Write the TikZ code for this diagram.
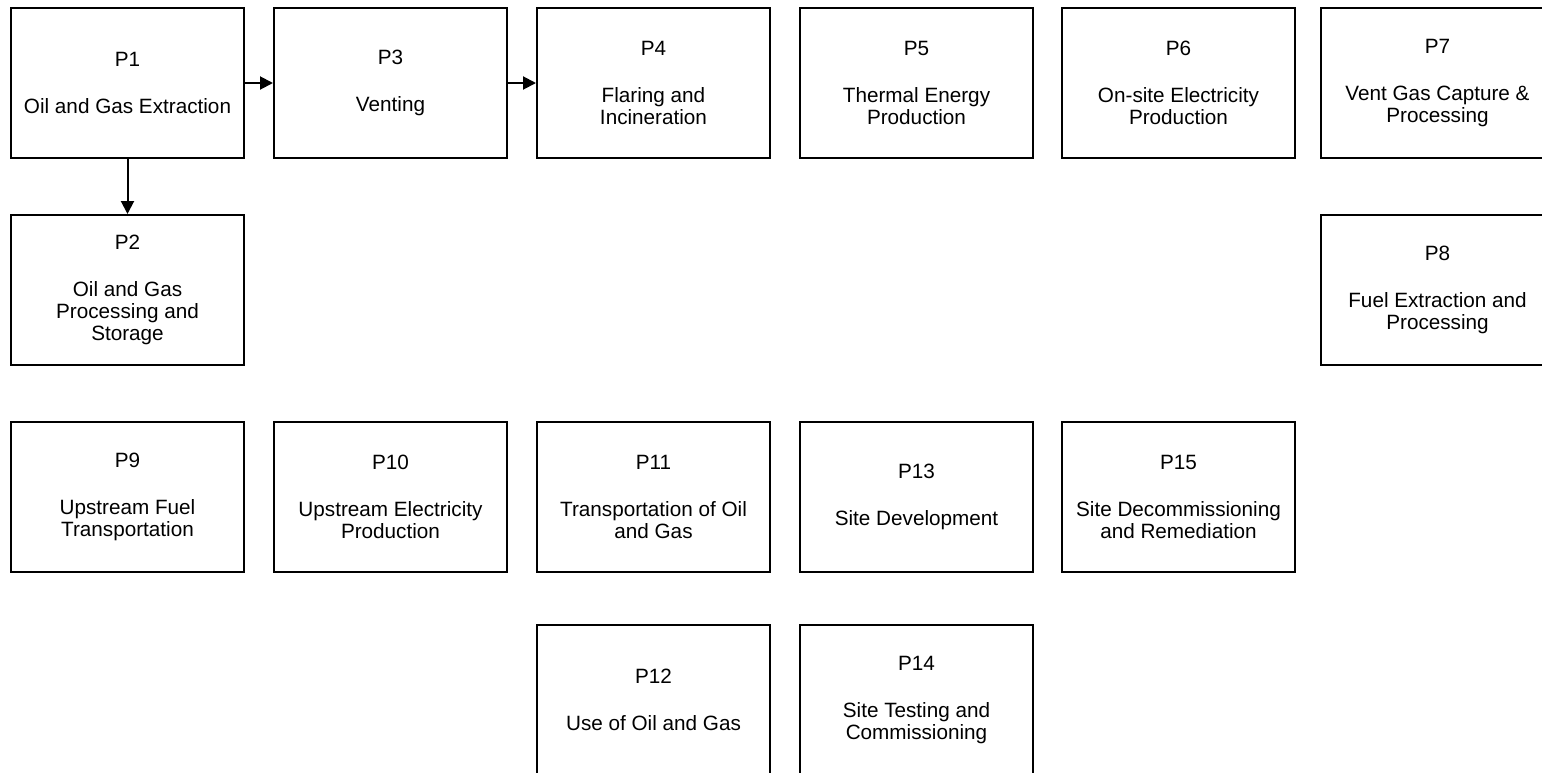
\documentclass[tikz,border=0pt]{standalone}
\usepackage{fontspec}
\setmainfont{Liberation Sans}
\usetikzlibrary{arrows.meta}

\begin{document}
\begin{tikzpicture}[x=0.5pt, y=-0.5pt,
  procbox/.style={draw, line width=1pt, minimum width=116.5pt, minimum height=75pt,
    inner sep=0pt, align=center, font=\fontsize{10.35pt}{11pt}\selectfont},
  flow/.style={line width=1pt, -{Triangle[length=6.5pt,width=6.5pt]}}]
  \useasboundingbox (0,0) rectangle (1542,772);

  % Top row
  \node[procbox] (p1) at (127.5,83) {P1\\[12.5pt]Oil and Gas Extraction};
  \node[procbox] (p3) at (390.5,83) {P3\\[12.5pt]Venting};
  \node[procbox] (p4) at (653.5,83) {P4\\[12.5pt]Flaring and\\Incineration};
  \node[procbox] (p5) at (916.5,83) {P5\\[12.5pt]Thermal Energy\\Production};
  \node[procbox] (p6) at (1178.5,83) {P6\\[12.5pt]On-site Electricity\\Production};
  \node[procbox] (p7) at (1437.5,83) {P7\\[12.5pt]Vent Gas Capture \&\\Processing};

  % Second row
  \node[procbox] (p2) at (127.5,290) {P2\\[12.5pt]Oil and Gas\\Processing and\\Storage};
  \node[procbox] (p8) at (1437.5,290) {P8\\[12.5pt]Fuel Extraction and\\Processing};

  % Third row
  \node[procbox] (p9) at (127.5,497) {P9\\[12.5pt]Upstream Fuel\\Transportation};
  \node[procbox] (p10) at (390.5,497) {P10\\[12.5pt]Upstream Electricity\\Production};
  \node[procbox] (p11) at (653.5,497) {P11\\[12.5pt]Transportation of Oil\\and Gas};
  \node[procbox] (p13) at (916.5,497) {P13\\[12.5pt]Site Development};
  \node[procbox] (p15) at (1178.5,497) {P15\\[12.5pt]Site Decommissioning\\and Remediation};

  % Bottom row
  \node[procbox] (p12) at (653.5,700) {P12\\[12.5pt]Use of Oil and Gas};
  \node[procbox] (p14) at (916.5,700) {P14\\[12.5pt]Site Testing and\\Commissioning};

  % Flows
  \draw[flow] (p1) -- (p3);
  \draw[flow] (p3) -- (p4);
  \draw[flow] (p1) -- (p2);

\end{tikzpicture}
\end{document}
